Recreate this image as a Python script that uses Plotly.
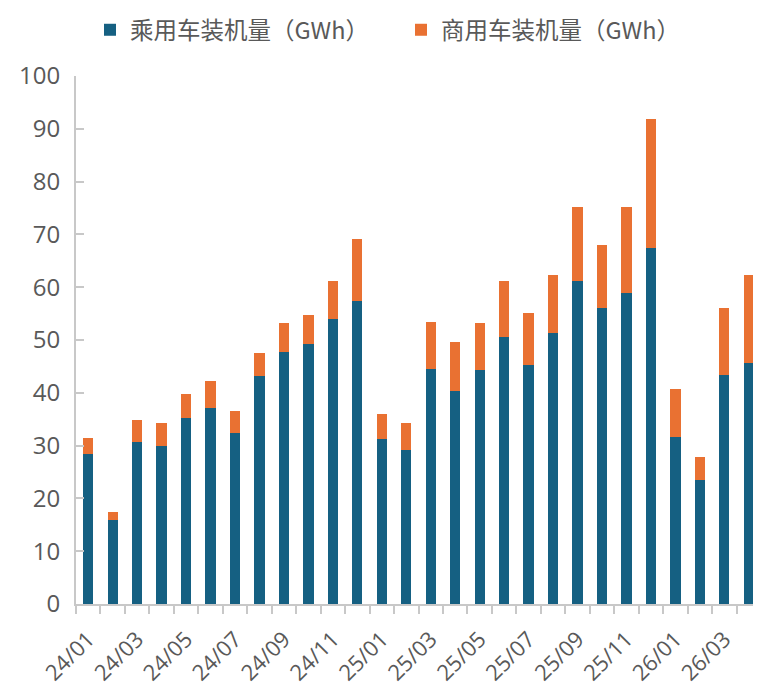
#!/usr/bin/env python3

import plotly.graph_objects as go

# Data: monthly installed battery capacity (GWh)
months = ['24/01', '24/02', '24/03', '24/04', '24/05', '24/06', '24/07', '24/08',
          '24/09', '24/10', '24/11', '24/12', '25/01', '25/02', '25/03', '25/04',
          '25/05', '25/06', '25/07', '25/08', '25/09', '25/10', '25/11', '25/12',
          '26/01', '26/02', '26/03', '26/04']
passenger = [28.5, 15.9, 30.6, 29.9, 35.3, 37.2, 32.3, 43.1,
             47.8, 49.2, 53.9, 57.3, 31.2, 29.2, 44.6, 40.3,
             44.3, 50.5, 45.3, 51.4, 61.1, 56.0, 58.9, 67.5,
             31.6, 23.4, 43.3, 45.7]
total = [31.5, 17.5, 34.9, 34.2, 39.7, 42.2, 36.5, 47.5,
         53.3, 54.8, 61.2, 69.2, 35.9, 34.3, 53.4, 49.7,
         53.3, 61.2, 55.2, 62.3, 75.2, 68.0, 75.1, 91.9,
         40.8, 27.8, 56.1, 62.4]
commercial = [round(t - p, 1) for t, p in zip(total, passenger)]
tick_labels = months[::2]

blue = '#156082'
orange = '#E97132'
grey_text = '#595959'
axis_grey = '#C8C8C8'
font_family = 'Open Sans, Noto Sans CJK SC, sans-serif'

traces = [
    go.Bar(x=months, y=passenger, name='乘用车装机量（GWh）',
           marker=dict(color=blue, line=dict(width=0))),
    go.Bar(x=months, y=commercial, name='商用车装机量（GWh）',
           marker=dict(color=orange, line=dict(width=0))),
    # empty trace so the boundary-tick axis gets drawn
    go.Scatter(x=[], y=[], xaxis='x2', showlegend=False, hoverinfo='skip'),
]

# the page body adds an 8px margin, so the figure is 8px smaller each way
layout = go.Layout(
    width=753, height=678,
    barmode='stack',
    bargap=0.58,
    plot_bgcolor='white',
    paper_bgcolor='white',
    margin=dict(l=68, r=0, t=68, b=82, autoexpand=False),
    font=dict(family=font_family, color=grey_text, size=24),
    showlegend=True,
    legend=dict(orientation='h', x=0.0204, xanchor='left',
                y=1.1288, yanchor='top',
                font=dict(family='Noto Sans CJK SC, sans-serif', size=23.5, color=grey_text),
                entrywidth=266, entrywidthmode='pixels', traceorder='normal'),
    xaxis=dict(type='category', range=[-0.5, 27.5], tickvals=tick_labels,
               ticks='', tickangle=-45, showline=False, showgrid=False,
               automargin=False, tickfont=dict(size=22, color=grey_text),
               ticklabelstandoff=17),
    xaxis2=dict(overlaying='x', side='bottom', range=[-0.5, 27.5],
                tickvals=[i - 0.5 for i in range(len(months) + 1)],
                showticklabels=False, ticks='outside', ticklen=8, tickwidth=2,
                tickcolor=axis_grey, showline=True, linecolor=axis_grey,
                linewidth=2, showgrid=False, zeroline=False, automargin=False),
    yaxis=dict(range=[0, 100], dtick=10, ticks='inside', ticklen=8, tickwidth=2,
               tickcolor=axis_grey, showline=True, linecolor=axis_grey, linewidth=2,
               showgrid=False, zeroline=False, ticklabelstandoff=9,
               automargin=False, tickfont=dict(size=24, color=grey_text)),
)

fig = go.Figure(data=traces, layout=layout)
fig.write_html('out.html')
